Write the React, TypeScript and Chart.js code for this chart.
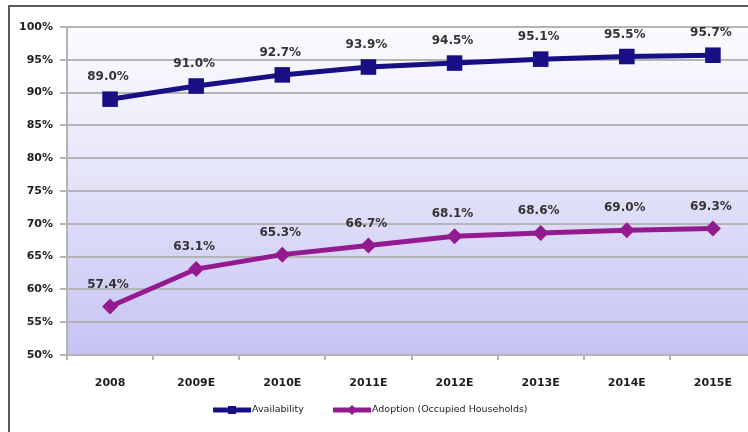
import React, { useEffect, useRef } from "react";
import { Chart, registerables } from "chart.js";

Chart.register(...registerables);

const categories = ["2008", "2009E", "2010E", "2011E", "2012E", "2013E", "2014E", "2015E"];
const availability = [89.0, 91.0, 92.7, 93.9, 94.5, 95.1, 95.5, 95.7];
const adoption = [57.4, 63.1, 65.3, 66.7, 68.1, 68.6, 69.0, 69.3];
const seriesNames = ["Availability", "Adoption (Occupied Households)"];
const yMin = 50;
const yMax = 100;
const yStep = 5;

const NAVY = "#180f85";
const PURPLE = "#941a8f";

const bgPlugin = {
  id: "bgPlugin",
  beforeDraw(chart: any) {
    const { ctx, chartArea } = chart;
    ctx.save();
    ctx.fillStyle = "#ffffff";
    ctx.fillRect(0, 0, chart.width, chart.height);
    const g = ctx.createLinearGradient(0, chartArea.top, 0, chartArea.bottom);
    g.addColorStop(0, "#fbfbfe");
    g.addColorStop(0.25, "#f0f0fc");
    g.addColorStop(1, "#c6c3f3");
    ctx.fillStyle = g;
    ctx.fillRect(chartArea.left, chartArea.top, chartArea.right - chartArea.left, chartArea.bottom - chartArea.top);
    ctx.restore();
  },
  afterDraw(chart: any) {
    const { ctx } = chart;
    ctx.save();
    ctx.strokeStyle = "#5a5a5a";
    ctx.lineWidth = 2;
    ctx.strokeRect(9, 6, chart.width + 20, chart.height + 20);
    ctx.font = "bold 12px 'DejaVu Sans'";
    ctx.fillStyle = "#333333";
    ctx.textAlign = "center";
    ctx.textBaseline = "middle";
    chart.data.datasets.forEach((ds: any, i: number) => {
      const meta = chart.getDatasetMeta(i);
      meta.data.forEach((pt: any, j: number) => {
        ctx.fillText(ds.data[j].toFixed(1) + "%", pt.x - 2, pt.y - 22);
      });
    });
    const ly = 410;
    const starts = [213, 333];
    chart.data.datasets.forEach((ds: any, i: number) => {
      const x0 = starts[i];
      ctx.strokeStyle = ds.borderColor;
      ctx.lineWidth = 5;
      ctx.beginPath();
      ctx.moveTo(x0, ly);
      ctx.lineTo(x0 + 38, ly);
      ctx.stroke();
      ctx.fillStyle = ds.borderColor;
      if (i === 0) {
        ctx.fillRect(x0 + 15, ly - 4, 8, 8);
      } else {
        ctx.beginPath();
        ctx.moveTo(x0 + 19, ly - 5);
        ctx.lineTo(x0 + 24, ly);
        ctx.lineTo(x0 + 19, ly + 5);
        ctx.lineTo(x0 + 14, ly);
        ctx.closePath();
        ctx.fill();
      }
      ctx.fillStyle = "#222222";
      ctx.font = "9.5px 'DejaVu Sans'";
      ctx.textAlign = "left";
      ctx.fillText(ds.label, x0 + 39, ly);
    });
    ctx.restore();
  },
};

export default function App() {
  const ref = useRef<HTMLCanvasElement | null>(null);
  useEffect(() => {
    if (!ref.current) return;
    const chart = new Chart(ref.current, {
      type: "line",
      data: {
        labels: categories,
        datasets: [
          {
            label: seriesNames[0],
            data: availability,
            borderColor: NAVY,
            backgroundColor: NAVY,
            borderWidth: 5,
            pointStyle: "rect",
            pointRadius: 11,
            pointBorderWidth: 0,
            tension: 0,
          },
          {
            label: seriesNames[1],
            data: adoption,
            borderColor: PURPLE,
            backgroundColor: PURPLE,
            borderWidth: 5,
            pointStyle: "rectRot",
            pointRadius: 8,
            pointBorderWidth: 0,
            tension: 0,
          },
        ],
      },
      options: {
        responsive: false,
        animation: false,
        devicePixelRatio: 1,
        layout: { padding: { left: 9, top: 27, right: 5, bottom: 0 } },
        plugins: { legend: { display: false }, tooltip: { enabled: false } },
        scales: {
          x: {
            offset: true,
            grid: {
              offset: true,
              drawOnChartArea: false,
              drawTicks: true,
              tickLength: 5,
              color: "#b4b4b4",
              lineWidth: 2,
            },
            border: { color: "#b4b4b4", width: 2 },
            ticks: {
              color: "#1e1e1e",
              font: { family: "'DejaVu Sans'", size: 11, weight: "bold" },
              padding: 17,
              maxRotation: 0,
            },
            afterFit(scale: any) {
              scale.height = 77;
            },
          },
          y: {
            min: yMin,
            max: yMax,
            grid: { color: "#b4b4b4", lineWidth: 2, tickLength: 7 },
            border: { color: "#b4b4b4", width: 2 },
            ticks: {
              stepSize: yStep,
              color: "#1e1e1e",
              font: { family: "'DejaVu Sans'", size: 11, weight: "bold" },
              padding: 7,
              callback: (v: any) => v + "%",
            },
            afterFit(scale: any) {
              scale.width = 58;
            },
          },
        },
      },
      plugins: [bgPlugin],
    } as any);
    return () => chart.destroy();
  }, []);
  return (
    <div style={{ position: "absolute", left: 0, top: 0, width: 748, height: 432, overflow: "hidden", background: "#fff" }}>
      <canvas ref={ref} width={767} height={432} style={{ display: "block" }} />
    </div>
  );
}
